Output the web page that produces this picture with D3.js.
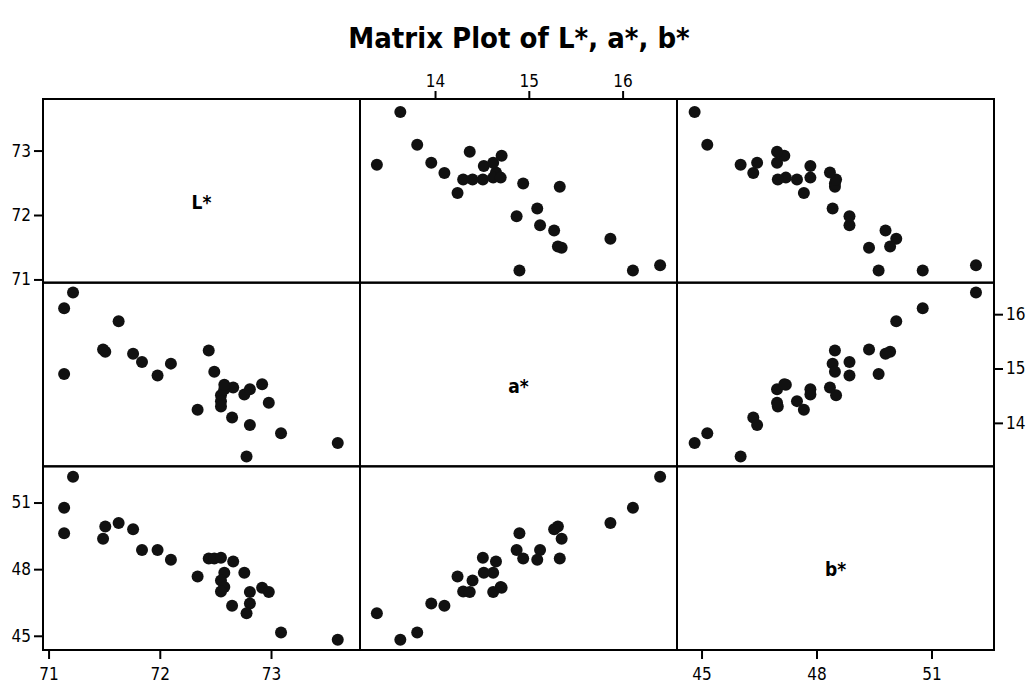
<!DOCTYPE html>
<html><head><meta charset="utf-8">
<script src="https://cdn.jsdelivr.net/npm/d3@7/dist/d3.min.js"></script>
<style>body{margin:0;background:#fff}svg{display:block}</style>
</head><body><svg id="chart" width="1034" height="683"></svg>
<script>
// ---- data ----
const varNames = ["L*", "a*", "b*"];
const Lvals = [71.22, 71.14, 71.63, 71.51, 71.76, 71.14, 71.49, 71.84, 71.98, 72.10, 72.44, 72.49, 72.55, 72.66,
               72.58, 72.76, 72.34, 72.55, 72.58, 72.55, 72.65, 72.81, 72.81, 72.78, 72.92, 72.98, 73.09, 73.60];
const aVals = [16.40, 16.11, 15.87, 15.31, 15.27, 14.90, 15.35, 15.12, 14.87, 15.09, 15.33, 14.94, 14.51, 14.65,
               14.62, 14.52, 14.24, 14.40, 14.70, 14.30, 14.10, 14.62, 13.96, 13.38, 14.71, 14.37, 13.81, 13.63];
const bVals = [52.16, 50.77, 50.08, 49.92, 49.80, 49.62, 49.37, 48.86, 48.86, 48.42, 48.48, 48.48, 48.51, 48.35,
               47.84, 47.84, 47.67, 47.49, 47.20, 46.99, 46.35, 46.97, 46.45, 46.02, 47.16, 46.97, 45.15, 44.82];
const Ldomain = [70.95, 73.8];
const aDomain = [13.2, 16.58];
const bDomain = [44.36, 52.63];
const Lticks = [71, 72, 73];
const aTicks = [14, 15, 16];
const bTicks = [45, 48, 51];
const title = "Matrix Plot of L*, a*, b*";

// ---- layout ----
const values = [Lvals, aVals, bVals];
const domains = [Ldomain, aDomain, bDomain];
const ticks = [Lticks, aTicks, bTicks];
const gLeft = 43, gTop = 99, cw = 317, ch = 551 / 3;
const n = 3;
const tickFont = "'DejaVu Sans Condensed', 'DejaVu Sans', sans-serif";

const svg = d3.select("#chart");

svg.append("text")
  .attr("x", 519).attr("y", 48)
  .attr("text-anchor", "middle")
  .style("font-family", tickFont)
  .style("font-weight", "bold")
  .style("font-size", "29px")
  .attr("fill", "#000")
  .text(title);

const xs = d3.range(n).map(j => d3.scaleLinear().domain(domains[j]).range([gLeft + j * cw, gLeft + (j + 1) * cw]));
const ys = d3.range(n).map(i => d3.scaleLinear().domain(domains[i]).range([gTop + (i + 1) * ch, gTop + i * ch]));

for (let i = 0; i < n; i++) {
  for (let j = 0; j < n; j++) {
    const g = svg.append("g");
    if (i === j) {
      g.append("text")
        .attr("x", gLeft + j * cw + cw / 2)
        .attr("y", gTop + i * ch + ch / 2 + 18)
        .attr("text-anchor", "middle")
        .style("font-family", tickFont)
        .style("font-weight", "bold")
        .style("font-size", "19px")
        .text(varNames[i]);
    } else {
      const pts = d3.range(Lvals.length).map(k => [values[j][k], values[i][k]]);
      g.selectAll("circle").data(pts).join("circle")
        .attr("cx", d => xs[j](d[0]))
        .attr("cy", d => ys[i](d[1]))
        .attr("r", 6)
        .attr("fill", "#111");
    }
  }
}

// cell borders
for (let i = 0; i < n; i++) for (let j = 0; j < n; j++) {
  svg.append("rect")
    .attr("x", gLeft + j * cw).attr("y", gTop + i * ch)
    .attr("width", cw).attr("height", ch)
    .attr("fill", "none").attr("stroke", "#000").attr("stroke-width", 2);
}

function styleAxis(g) {
  g.select(".domain").remove();
  g.selectAll(".tick line").attr("stroke", "#000").attr("stroke-width", 2);
  g.selectAll(".tick text")
    .style("font-family", tickFont)
    .style("font-size", "17px")
    .attr("fill", "#000");
}

// x axes: column 0 and 2 bottom, column 1 top
for (let j = 0; j < n; j++) {
  if (j === 1) {
    svg.append("g").attr("transform", `translate(0,${gTop})`)
      .call(d3.axisTop(xs[j]).tickValues(ticks[j]).tickSize(8).tickPadding(4).tickFormat(d3.format("d")))
      .call(styleAxis);
  } else {
    svg.append("g").attr("transform", `translate(0,${gTop + n * ch})`)
      .call(d3.axisBottom(xs[j]).tickValues(ticks[j]).tickSize(9).tickPadding(9).tickFormat(d3.format("d")))
      .call(styleAxis);
  }
}
// y axes: rows 0 and 2 left, row 1 right
for (let i = 0; i < n; i++) {
  if (i === 1) {
    svg.append("g").attr("transform", `translate(${gLeft + n * cw},0)`)
      .call(d3.axisRight(ys[i]).tickValues(ticks[i]).tickSize(9).tickPadding(3).tickFormat(d3.format("d")))
      .call(styleAxis);
  } else {
    svg.append("g").attr("transform", `translate(${gLeft},0)`)
      .call(d3.axisLeft(ys[i]).tickValues(ticks[i]).tickSize(9).tickPadding(3).tickFormat(d3.format("d")))
      .call(styleAxis);
  }
}
</script></body></html>
